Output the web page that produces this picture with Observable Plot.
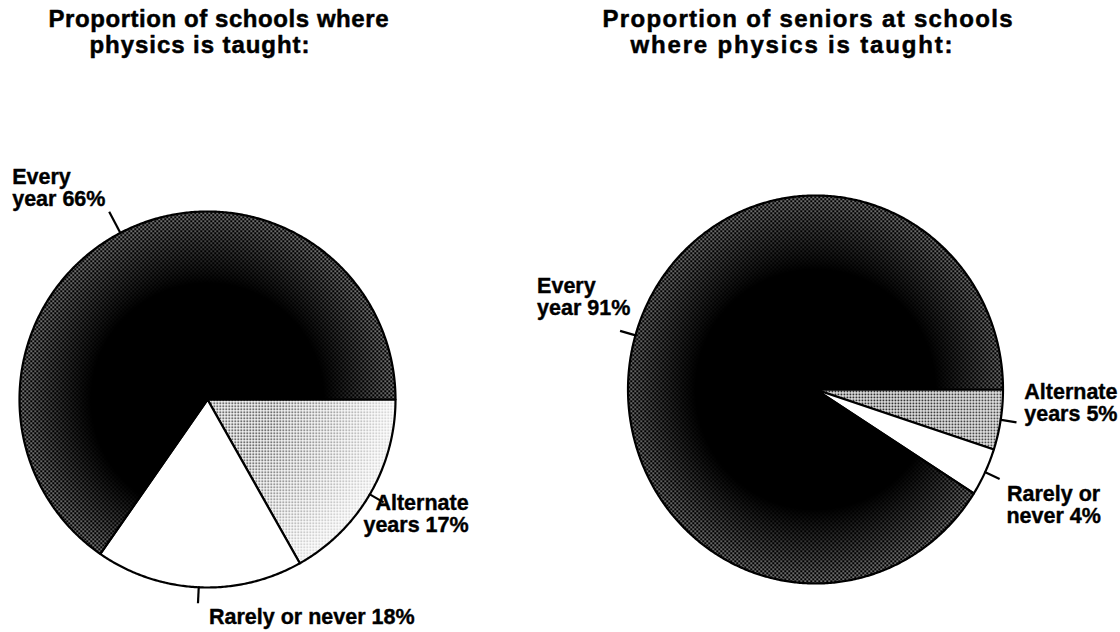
<!DOCTYPE html>
<html>
<head>
<meta charset="utf-8">
<script src="https://cdn.jsdelivr.net/npm/d3@7"></script>
<script src="https://cdn.jsdelivr.net/npm/@observablehq/plot@0.6"></script>
<style>
html, body { margin: 0; padding: 0; background: #ffffff; }
#chart { width: 1120px; height: 632px; }
</style>
</head>
<body>
<div id="chart"></div>
<script>
// ---------------- data ----------------
const categories = ["Alternate years", "Rarely or never", "Every year"];
const schoolsValues = [17, 18, 66];
const seniorsValues = [5, 4, 91];
const schoolsLabels = ["Alternate\nyears 17%", "Rarely or never 18%", "Every\nyear 66%"];
const seniorsLabels = ["Alternate\nyears 5%", "Rarely or\nnever 4%", "Every\nyear 91%"];
const schoolsTitle = ["Proportion of schools where", "physics is taught:"];
const seniorsTitle = ["Proportion of seniors at schools", "where physics is taught:"];

// ---------------- layout ----------------
const W = 1120, H = 632;
const FONT = "'Liberation Sans', Arial, Helvetica, sans-serif";
const pies = [
  {
    id: "schools", values: schoolsValues, labels: schoolsLabels, title: schoolsTitle,
    cx: 207, cy: 399, rx: 188, ry: 188,
    titleX: [48, 89], titleY: [26, 52], titleW: [340, 220],
    leaderLen: [16, 16, 24],
    labelOffsets: [
      {dx: 85, dy: 30, anchor: "end"},
      {dx: 11, dy: 21, anchor: "start"},
      {dx: -97, dy: -6, anchor: "start"}
    ],
    lightDot: 1.5, lightFade: 0.8
  },
  {
    id: "seniors", values: seniorsValues, labels: seniorsLabels, title: seniorsTitle,
    cx: 815, cy: 389, rx: 187.5, ry: 194,
    titleX: [602, 630], titleY: [26, 52], titleW: [410, 322],
    leaderLen: [16, 16, 16],
    labelOffsets: [
      {dx: 101, dy: -1, anchor: "end"},
      {dx: 54, dy: 44, anchor: "middle"},
      {dx: -83, dy: -16, anchor: "start"}
    ],
    lightDot: 1.8, lightFade: 0.15
  }
];

const pieGen = d3.pie().sort(null).value(d => d.value)
  .startAngle(Math.PI / 2).endAngle(Math.PI / 2 + 2 * Math.PI);

function slicePoints(p, a0, a1) {
  const pts = [{x: p.cx, y: p.cy}];
  const n = Math.max(4, Math.ceil((a1 - a0) / (Math.PI / 360)));
  for (let i = 0; i <= n; i++) {
    const a = a0 + (a1 - a0) * i / n;
    pts.push({x: p.cx + p.rx * Math.sin(a), y: p.cy - p.ry * Math.cos(a)});
  }
  pts.push({x: p.cx, y: p.cy});
  return pts;
}

const marks = [];
pies.forEach((p, pi) => {
  const rows = categories.map((c, i) => ({category: c, value: p.values[i], label: p.labels[i], i}));
  const arcs = pieGen(rows);
  arcs.forEach(a => {
    const cat = a.data.category;
    const pts = slicePoints(p, a.startAngle, a.endAngle);
    let fill = "white";
    if (cat === "Every year") fill = "url(#darkDots)";
    else if (cat === "Alternate years") fill = `url(#lightDots${pi})`;
    marks.push(Plot.line(pts, {x: "x", y: "y", fill, stroke: "none", curve: "linear"}));
    if (cat === "Every year") marks.push(Plot.line(pts, {x: "x", y: "y", fill: `url(#darkFade${pi})`, stroke: "none", curve: "linear"}));
    if (cat === "Alternate years") marks.push(Plot.line(pts, {x: "x", y: "y", fill: `url(#lightFade${pi})`, stroke: "none", curve: "linear"}));
    marks.push(Plot.line(pts, {x: "x", y: "y", fill: "none", stroke: "black", strokeWidth: 2.2, curve: "linear"}));
  });
  // leader lines at slice midpoints
  const leaders = arcs.map(a => {
    const m = (a.startAngle + a.endAngle) / 2;
    const L = p.leaderLen[a.data.i];
    return {
      x1: p.cx + (p.rx - 1) * Math.sin(m), y1: p.cy - (p.ry - 1) * Math.cos(m),
      x2: p.cx + (p.rx + L) * Math.sin(m), y2: p.cy - (p.ry + L) * Math.cos(m),
      label: a.data.label, i: a.data.i
    };
  });
  marks.push(Plot.link(leaders, {x1: "x1", y1: "y1", x2: "x2", y2: "y2", stroke: "black", strokeWidth: 2.2}));
  leaders.forEach(l => {
    const o = p.labelOffsets[l.i];
    marks.push(Plot.text([l], {
      x: d => d.x2 + o.dx, y: d => d.y2 + o.dy, text: "label",
      textAnchor: o.anchor, lineAnchor: "bottom", lineHeight: 1.02,
      fontSize: 21.5, fontWeight: "bold", fill: "black", fontFamily: FONT,
      stroke: "black", strokeWidth: 0.4
    }));
  });
  // titles
  p.title.forEach((t, k) => {
    marks.push(Plot.text([t], {
      x: () => p.titleX[k], y: () => p.titleY[k], text: d => d,
      textAnchor: "start", lineAnchor: "bottom",
      fontSize: 24, fontWeight: "bold", fill: "black", fontFamily: FONT,
      stroke: "black", strokeWidth: 0.5
    }));
  });
});

const svg = Plot.plot({
  width: W, height: H,
  margin: 0,
  x: {domain: [0, W], range: [0, W], axis: null},
  y: {domain: [0, H], range: [0, H], axis: null},
  style: {background: "white", fontFamily: FONT, overflow: "visible"},
  marks
});

// patterns and gradients
const defs = d3.select(svg).insert("defs", ":first-child");
const dark = defs.append("pattern").attr("id", "darkDots")
  .attr("patternUnits", "userSpaceOnUse").attr("width", 4).attr("height", 4);
dark.append("rect").attr("width", 4).attr("height", 4).attr("fill", "black");
dark.append("rect").attr("x", 0).attr("y", 0).attr("width", 1.4).attr("height", 1.4).attr("fill", "white");
dark.append("rect").attr("x", 2).attr("y", 2).attr("width", 1.4).attr("height", 1.4).attr("fill", "white");

pies.forEach((p, pi) => {
  const lp = defs.append("pattern").attr("id", `lightDots${pi}`)
    .attr("patternUnits", "userSpaceOnUse").attr("width", 3).attr("height", 3);
  lp.append("rect").attr("width", 3).attr("height", 3).attr("fill", "white");
  lp.append("rect").attr("x", 0).attr("y", 0).attr("width", p.lightDot).attr("height", p.lightDot).attr("fill", "black");

  const df = defs.append("radialGradient").attr("id", `darkFade${pi}`)
    .attr("gradientUnits", "userSpaceOnUse")
    .attr("cx", p.cx).attr("cy", p.cy).attr("r", Math.max(p.rx, p.ry));
  df.append("stop").attr("offset", 0).attr("stop-color", "black").attr("stop-opacity", 1);
  df.append("stop").attr("offset", 0.62).attr("stop-color", "black").attr("stop-opacity", 1);
  df.append("stop").attr("offset", 1).attr("stop-color", "black").attr("stop-opacity", 0.05);

  const lf = defs.append("radialGradient").attr("id", `lightFade${pi}`)
    .attr("gradientUnits", "userSpaceOnUse")
    .attr("cx", p.cx).attr("cy", p.cy).attr("r", Math.max(p.rx, p.ry));
  lf.append("stop").attr("offset", 0).attr("stop-color", "white").attr("stop-opacity", 0);
  lf.append("stop").attr("offset", 0.35).attr("stop-color", "white").attr("stop-opacity", 0);
  lf.append("stop").attr("offset", 1).attr("stop-color", "white").attr("stop-opacity", p.lightFade);
});

// fit each title line to its width in the reference
pies.forEach(p => {
  p.title.forEach((t, k) => {
    d3.select(svg).selectAll("text").filter(function () { return this.textContent === t; })
      .attr("textLength", p.titleW[k]).attr("lengthAdjust", "spacing");
  });
});

document.getElementById("chart").appendChild(svg);
</script>
</body>
</html>
